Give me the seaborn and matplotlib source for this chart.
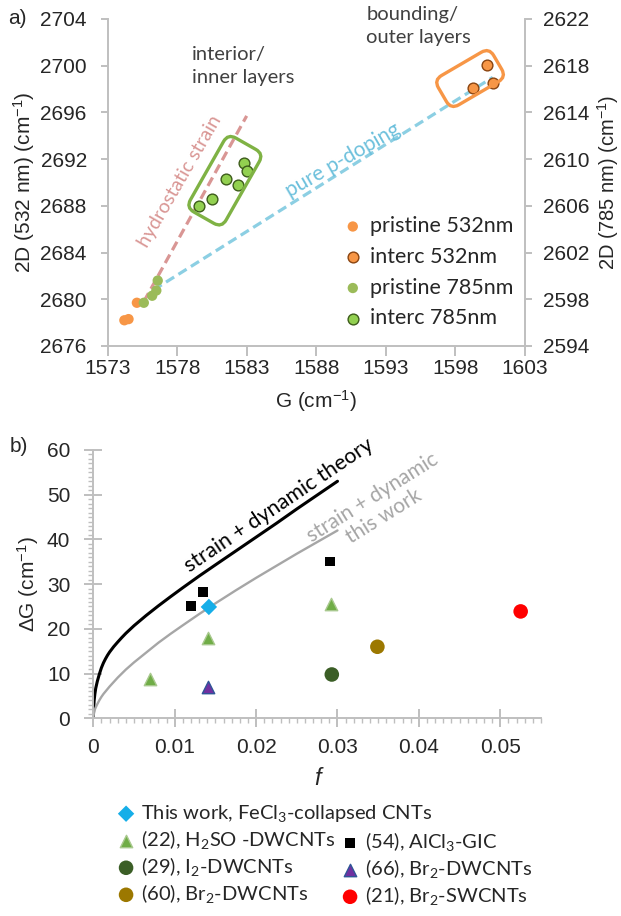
import numpy as np
import pandas as pd
import seaborn as sns
import matplotlib.pyplot as plt
import matplotlib.transforms as mtransforms
from matplotlib.patches import FancyBboxPatch

# === panel a: Raman peak positions (cm-1) ===
g_pristine_532 = [1574.2, 1574.5, 1575.1]
d_pristine_532 = [2678.2, 2678.3, 2679.7]
g_interc_532 = [1600.3, 1599.3, 1600.7]
d_interc_532 = [2700.1, 2698.1, 2698.5]
g_pristine_785 = [1575.6, 1576.2, 1576.5, 1576.6]
d_pristine_785 = [2597.7, 2598.3, 2598.75, 2599.6]
g_interc_785 = [1579.6, 1580.5, 1581.5, 1582.4, 1582.8, 1583.0]
d_interc_785 = [2606.0, 2606.6, 2608.3, 2607.8, 2609.7, 2609.0]

strain_g = [1575.6, 1583.0]
strain_d = [2679.8, 2695.7]
doping_g = [1576.3, 1600.7]
doping_d = [2680.8, 2699.0]

# === panel b: G shift vs f ===
f_curve = [0, 0.0001, 0.0002, 0.0003, 0.0005, 0.00075, 0.001, 0.00125, 0.0015, 0.00175,
           0.002, 0.0025, 0.003, 0.0035, 0.004, 0.005, 0.0065, 0.008, 0.0095, 0.011,
           0.013, 0.015, 0.0175, 0.02, 0.0225, 0.025, 0.0275, 0.03]
dg_theory = [0, 3.9, 5.5, 6.7, 8.3, 9.9, 11.3, 12.4, 13.3, 14.1,
             14.8, 16.0, 17.05, 18.05, 19.0, 20.7, 23.0, 25.15, 27.2, 29.2,
             31.8, 34.3, 37.4, 40.5, 43.6, 46.8, 49.9, 53.0]
dg_work = [0, 1.4, 2.0, 2.45, 3.2, 4.05, 4.8, 5.45, 6.0, 6.55,
           7.1, 8.1, 9.1, 10.0, 10.9, 12.5, 14.7, 16.9, 18.9, 20.8,
           23.3, 25.7, 28.6, 31.4, 34.1, 36.8, 39.4, 42.0]

f_this = [0.0142]
dg_this = [24.9]
f_h2so4 = [0.0070, 0.0141, 0.0292]
dg_h2so4 = [8.9, 17.9, 25.6]
f_i2 = [0.0293]
dg_i2 = [9.8]
f_br2_60 = [0.0349]
dg_br2_60 = [16.0]
f_alcl3 = [0.0120, 0.0135, 0.0291]
dg_alcl3 = [25.1, 28.2, 35.1]
f_br2_66 = [0.0141]
dg_br2_66 = [7.1]
f_br2_sw = [0.0525]
dg_br2_sw = [23.9]

sns.set_theme(style="white")
plt.rcParams['font.family'] = ['Liberation Sans', 'DejaVu Sans']
plt.rcParams['mathtext.default'] = 'regular'
ANN = ['Lato', 'DejaVu Sans']
AX_C = '#bfbfbf'
TXT_C = '#262626'

fig = plt.figure(figsize=(6.21, 9.16), dpi=100)

# ---------------- panel a ----------------
ax1 = fig.add_axes([0.1734, 0.6223, 0.6715, 0.357])
ax1r = ax1.twinx()

sns.lineplot(x=strain_g, y=strain_d, ax=ax1, color='#d99694', lw=2.3,
             linestyle=(0, (3, 1.6)))
sns.lineplot(x=doping_g, y=doping_d, ax=ax1, color='#8ccfe3', lw=2.3,
             linestyle=(0, (3, 1.6)))

sns.scatterplot(x=g_pristine_532, y=d_pristine_532, ax=ax1, color='#f79646',
                edgecolor='none', s=55, label='pristine 532nm', zorder=3)
sns.scatterplot(x=g_interc_532, y=d_interc_532, ax=ax1, color='#f79646',
                edgecolor='#8a4410', linewidth=1.0, s=60, label='interc 532nm', zorder=3)
sns.scatterplot(x=g_pristine_785, y=d_pristine_785, ax=ax1r, color='#9bbb59',
                edgecolor='none', s=55, label='pristine 785nm', zorder=3)
sns.scatterplot(x=g_interc_785, y=d_interc_785, ax=ax1r, color='#92d050',
                edgecolor='#3d5c1b', linewidth=1.0, s=60, label='interc 785nm', zorder=3)

ax1.set_xlim(1573, 1603)
ax1.set_ylim(2676, 2704)
ax1r.set_ylim(2594, 2622)
ax1.set_xticks(np.arange(1573, 1604, 5))
ax1.set_yticks(np.arange(2676, 2705, 4))
ax1r.set_yticks(np.arange(2594, 2623, 4))

for a in (ax1, ax1r):
    for sp in a.spines.values():
        sp.set_visible(False)
        sp.set_color(AX_C)
        sp.set_linewidth(1.4)
ax1.spines['left'].set_visible(True)
ax1.spines['bottom'].set_visible(True)
ax1r.spines['right'].set_visible(True)
ax1.tick_params(axis='both', direction='out', width=1.4, color=AX_C,
                labelsize=15, labelcolor=TXT_C, left=True, bottom=True)
ax1.tick_params(axis='y', length=5, pad=10)
ax1.tick_params(axis='x', length=7, pad=2.5)
ax1r.tick_params(axis='y', direction='out', length=5, width=1.4, color=AX_C,
                 labelsize=15, labelcolor=TXT_C, right=True, pad=8)

ax1.set_xlabel('G (cm$^{-1}$)', fontsize=15, color=TXT_C, labelpad=7)
ax1.set_ylabel('2D (532 nm) (cm$^{-1}$)', fontsize=15, color=TXT_C, labelpad=2)
ax1r.set_ylabel('2D (785 nm) (cm$^{-1}$)', fontsize=14.5, color=TXT_C, labelpad=4)

h1, l1 = ax1.get_legend_handles_labels()
h2, l2 = ax1r.get_legend_handles_labels()
if ax1.get_legend():
    ax1.get_legend().remove()
ax1r.legend(h1 + h2, l1 + l2, loc='upper left', bbox_to_anchor=(0.562, 0.397),
            frameon=False, handlelength=1.0, handletextpad=0.3, labelspacing=0.5,
            borderpad=0, borderaxespad=0, prop={'family': ANN, 'size': 15.5})


def add_box(ax, center, w, h, angle, color):
    tr = (mtransforms.Affine2D().rotate_deg(angle)
          + mtransforms.ScaledTranslation(center[0], center[1], ax.transData))
    box = FancyBboxPatch((-w / 2, -h / 2), w, h,
                         boxstyle='round,pad=0,rounding_size=9',
                         transform=tr, fill=False, ec=color, lw=2.4)
    fig.add_artist(box)


add_box(ax1, (1581.43, 2690.15), 85, 41, 60.4, '#7fb244')
add_box(ax1, (1599.07, 2698.9), 64, 34, 30.3, '#f79646')

ax1.text(1579.06, 2701.7, 'interior/\ninner layers', ha='left', va='top',
         fontsize=14.5, family=ANN, color='#404040', linespacing=1.45)
ax1.text(1591.6, 2705.1, 'bounding/\nouter layers', ha='left', va='top',
         fontsize=14.5, family=ANN, color='#404040', linespacing=1.45, clip_on=False)
ax1.text(1578.2, 2690.1, 'hydrostatic strain', rotation=60, rotation_mode='anchor',
         ha='center', va='center', fontsize=14, family=ANN, color='#d99694')
ax1.text(1589.9, 2691.9, 'pure p-doping', rotation=30, rotation_mode='anchor',
         ha='center', va='center', fontsize=15, family=ANN, color='#6cc0dc')

fig.text(8 / 621, 1 - 18 / 916, 'a)', fontsize=15, color=TXT_C, ha='left', va='center')
fig.text(10 / 621, 1 - 446 / 916, 'b)', fontsize=15, color=TXT_C, ha='left', va='center')

# ---------------- panel b ----------------
ax2 = fig.add_axes([0.1502, 0.2158, 0.721, 0.293])

sns.lineplot(x=f_curve, y=dg_theory, ax=ax2, color='black', lw=2.2)
sns.lineplot(x=f_curve, y=dg_work, ax=ax2, color='#a6a6a6', lw=1.7)

series = [
    (f_this, dg_this, 'D', '#16aee8', 'none', 70, 'This work, FeCl$_3$-collapsed CNTs'),
    (f_h2so4, dg_h2so4, '^', '#70ad47', '#a9c98f', 80, '(22), H$_2$SO -DWCNTs'),
    (f_i2, dg_i2, 'o', '#3b5e26', 'none', 110, '(29), I$_2$-DWCNTs'),
    (f_br2_60, dg_br2_60, 'o', '#9c7800', 'none', 110, '(60), Br$_2$-DWCNTs'),
    (f_alcl3, dg_alcl3, 's', 'black', 'none', 48, '(54), AlCl$_3$-GIC'),
    (f_br2_66, dg_br2_66, '^', '#7030a0', '#2f5597', 80, '(66), Br$_2$-DWCNTs'),
    (f_br2_sw, dg_br2_sw, 'o', '#ff0000', 'none', 110, '(21), Br$_2$-SWCNTs'),
]
for fx, fy, mk, col, ec, sz, lab in series:
    sns.scatterplot(x=fx, y=fy, ax=ax2, marker=mk, color=col, edgecolor=ec,
                    linewidth=1.0, s=sz, label=lab, zorder=3)
hb, lb = ax2.get_legend_handles_labels()
if ax2.get_legend():
    ax2.get_legend().remove()

ax2.set_xlim(0, 0.055)
ax2.set_ylim(0, 60)
ax2.set_xticks([0, 0.01, 0.02, 0.03, 0.04, 0.05])
ax2.set_xticklabels(['0', '0.01', '0.02', '0.03', '0.04', '0.05'])
ax2.set_yticks(np.arange(0, 61, 10))
ax2.set_xticks(np.arange(0, 0.0551, 0.001), minor=True)
ax2.set_yticks(np.arange(0, 61, 1), minor=True)
for s in ('top', 'right'):
    ax2.spines[s].set_visible(False)
for s in ('left', 'bottom'):
    ax2.spines[s].set_color(AX_C)
    ax2.spines[s].set_linewidth(1.4)
ax2.tick_params(which='major', direction='inout', length=13, width=1.4, color=AX_C,
                labelsize=15, labelcolor=TXT_C, left=True, bottom=True)
ax2.tick_params(which='minor', direction='out', length=3.5, width=1.0, color=AX_C,
                left=True, bottom=True)
ax2.tick_params(axis='x', which='major', pad=8)
ax2.tick_params(axis='y', which='major', pad=10)
ax2.set_xlabel('f', fontsize=17, style='italic', color=TXT_C, labelpad=7)
ax2.set_ylabel('ΔG (cm$^{-1}$)', fontsize=15, color=TXT_C, labelpad=4)

ax2.text(0.0228, 47.6, 'strain + dynamic theory', rotation=34, rotation_mode='anchor',
         ha='center', va='center', fontsize=15.5, family=ANN, color='black')
ax2.text(0.0350, 47.3, 'strain + dynamic\nthis work', rotation=32, rotation_mode='anchor',
         ha='center', va='center', fontsize=15, family=ANN, color='#a6a6a6',
         multialignment='center', linespacing=1.1)

leg_kw = dict(frameon=False, handlelength=1.0, handletextpad=0.25, labelspacing=0.2,
              borderpad=0, borderaxespad=0, prop={'family': ANN, 'size': 14.5})
leg1 = fig.legend([hb[0], hb[1], hb[2], hb[3]], [lb[0], lb[1], lb[2], lb[3]],
                  loc='upper left', bbox_to_anchor=(116 / 621, 1 - 803 / 916), **leg_kw)
leg2 = fig.legend([hb[4], hb[5], hb[6]], [lb[4], lb[5], lb[6]],
                  loc='upper left', bbox_to_anchor=(340 / 621, 1 - 830 / 916), **leg_kw)

fig.savefig('out.png', dpi=100)
